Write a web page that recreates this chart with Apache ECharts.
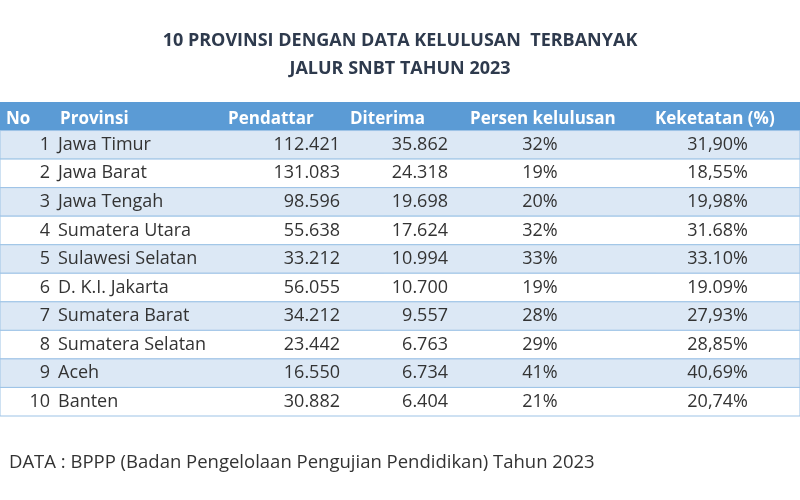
<!DOCTYPE html>
<html>
<head>
<meta charset="utf-8">
<script src="https://cdn.jsdelivr.net/npm/echarts@6/dist/echarts.min.js"></script>
<style>html,body{margin:0;padding:0;background:#fff}#chart{width:800px;height:500px}</style>
</head>
<body>
<div id="chart"></div>
<script>
// Table data
var headers = ['No', 'Provinsi', 'Pendattar', 'Diterima', 'Persen kelulusan', 'Keketatan (%)'];
var nomor = ['1', '2', '3', '4', '5', '6', '7', '8', '9', '10'];
var provinsi = ['Jawa Timur', 'Jawa Barat', 'Jawa Tengah', 'Sumatera Utara', 'Sulawesi Selatan',
  'D. K.I. Jakarta', 'Sumatera Barat', 'Sumatera Selatan', 'Aceh', 'Banten'];
var pendaftar = ['112.421', '131.083', '98.596', '55.638', '33.212', '56.055', '34.212', '23.442', '16.550', '30.882'];
var diterima = ['35.862', '24.318', '19.698', '17.624', '10.994', '10.700', '9.557', '6.763', '6.734', '6.404'];
var persen = ['32%', '19%', '20%', '32%', '33%', '19%', '28%', '29%', '41%', '21%'];
var keketatan = ['31,90%', '18,55%', '19,98%', '31.68%', '33.10%', '19.09%', '27,93%', '28,85%', '40,69%', '20,74%'];

var rowIds = ['h'].concat(nomor);

// column anchors on the x scale (0-800) for header / body cells
var headX = [6, 60, 228, 350, 470, 655];
var bodyX = [50, 58, 340, 448, 540, 748];
var bodyAlign = ['right', 'left', 'right', 'right', 'center', 'right'];

var font = '"Open Sans", "Noto Sans", sans-serif';

function renderItem(params, api) {
  var i = params.dataIndex;
  var left = api.coord([0, i]);
  var right = api.coord([800, i]);
  var h = api.size([0, 1])[1];
  var y = left[1];
  var children = [];
  var header = i === 0;
  children.push({
    type: 'rect',
    shape: { x: left[0], y: y - h / 2, width: right[0] - left[0], height: h },
    style: { fill: header ? '#5b9bd5' : (i % 2 === 1 ? '#dce8f5' : '#ffffff'),
      stroke: header ? null : '#9dc3e6', lineWidth: 1 }
  });
  var cells = header ? headers : [nomor[i - 1], provinsi[i - 1], pendaftar[i - 1], diterima[i - 1], persen[i - 1], keketatan[i - 1]];
  for (var c = 0; c < cells.length; c++) {
    var p = api.coord([header ? headX[c] : bodyX[c], i]);
    children.push({
      type: 'text',
      style: {
        x: p[0], y: p[1] + (header ? 3 : 0), text: cells[c],
        align: header ? 'left' : bodyAlign[c], verticalAlign: 'middle',
        fill: header ? '#ffffff' : '#333333',
        font: (header ? 'bold 17px ' : '18px ') + font
      }
    });
  }
  return { type: 'group', children: children };
}

var chart = echarts.init(document.getElementById('chart'), null, { renderer: 'canvas' });
chart.setOption({
  backgroundColor: '#ffffff',
  animation: false,
  title: [
    { text: '10 PROVINSI DENGAN DATA KELULUSAN  TERBANYAK', left: 'center', top: 27,
      textStyle: { fontFamily: font, fontSize: 18, fontWeight: 'bold', color: '#2e3a4d' } },
    { text: 'JALUR SNBT TAHUN 2023', left: 'center', top: 55,
      textStyle: { fontFamily: font, fontSize: 18, fontWeight: 'bold', color: '#2e3a4d' } },
    { text: 'DATA : BPPP (Badan Pengelolaan Pengujian Pendidikan) Tahun 2023', left: 4, top: 448,
      textStyle: { fontFamily: font, fontSize: 18.5, fontWeight: 'normal', color: '#333333' } }
  ],
  grid: { left: 0, right: 0, top: 102, bottom: 84 },
  xAxis: { type: 'value', min: 0, max: 800, show: false },
  yAxis: { type: 'category', data: rowIds, inverse: true, show: false },
  series: [{
    type: 'custom',
    renderItem: renderItem,
    data: rowIds.map(function (r, i) { return [0, i]; }),
    encode: { x: 0, y: 1 }
  }]
});
</script>
</body>
</html>
